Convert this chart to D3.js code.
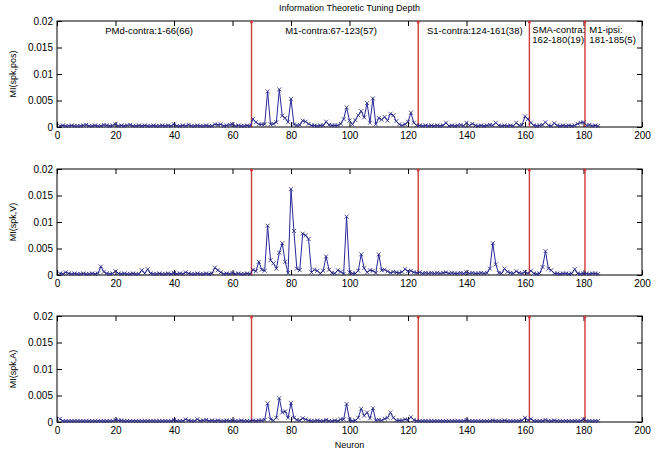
<!DOCTYPE html>
<html>
<head>
<meta charset="utf-8">
<script src="https://cdn.jsdelivr.net/npm/d3@7"></script>
<style>
  body { margin: 0; background: #fff; }
  text { font-family: "Liberation Sans", Arial, sans-serif; fill: #000; }
</style>
</head>
<body>
<svg id="chart" width="667" height="454"></svg>
<script>
// Information theoretic tuning depth, one value per neuron (1..185)
const miPos = [
  .0002,.0003,.0002,.0002,.0003,.0002,.0002,.0002,.0003,.0004,
  .0002,.0002,.0003,.0002,.0002,.0004,.0003,.0002,.0003,.0005,
  .0002,.0003,.0002,.0003,.0004,.0002,.0002,.0003,.0002,.0003,
  .0002,.0002,.0003,.0002,.0002,.0003,.0002,.0003,.0002,.0005,
  .0002,.0002,.0003,.0002,.0004,.0002,.0002,.0003,.0002,.0002,
  .0003,.0002,.0002,.0005,.0004,.0005,.0002,.0003,.0004,.0005,
  .0002,.0003,.0002,.0002,.0003,.0002,
  .0015,.0009,.0005,.0005,
  .0005,.0067,.0005,.0006,.0009,.0071,.0021,.0017,.0009,.0053,
  .0005,.0003,.0004,.0012,.0010,.0006,.0003,.0003,.0002,.0003,
  .0003,.0010,.0004,.0003,.0003,.0003,.0006,.0015,.0037,.0012,
  .0005,.0013,.0022,.0030,.0018,.0045,.0008,.0054,.0005,.0017,
  .0014,.0019,.0012,.0025,.0022,.0011,.0005,.0003,.0005,.0010,
  .0027,.0008,.0003,
  .0003,.0002,.0003,.0002,.0003,.0002,.0003,
  .0002,.0003,.0008,.0002,.0003,.0002,.0003,.0004,.0002,.0008,
  .0003,.0006,.0003,.0002,.0003,.0002,.0003,.0004,.0003,.0008,
  .0003,.0002,.0003,.0002,.0003,.0002,.0008,.0003,.0004,.0020,
  .0015,.0008,.0003,.0002,.0003,.0004,.0009,.0003,.0002,.0007,
  .0003,.0002,.0003,.0002,.0003,.0002,.0003,.0006,.0008,.0009,
  .0003,.0004,.0002,.0003,.0002
];

const miVel = [
  .0003,.0002,.0005,.0003,.0002,.0003,.0002,.0002,.0003,.0002,
  .0002,.0003,.0002,.0003,.0016,.0006,.0003,.0002,.0003,.0007,
  .0003,.0002,.0003,.0002,.0002,.0003,.0002,.0002,.0009,.0003,
  .0011,.0003,.0002,.0002,.0003,.0002,.0002,.0003,.0002,.0004,
  .0002,.0003,.0002,.0005,.0003,.0002,.0002,.0003,.0002,.0002,
  .0003,.0002,.0003,.0014,.0009,.0005,.0002,.0003,.0002,.0004,
  .0002,.0003,.0002,.0002,.0003,.0002,
  .0010,.0007,.0025,.0010,
  .0008,.0093,.0028,.0022,.0012,.0042,.0060,.0025,.0004,.0162,
  .0083,.0012,.0009,.0078,.0075,.0068,.0005,.0010,.0008,.0003,
  .0008,.0035,.0010,.0004,.0003,.0009,.0006,.0002,.0110,.0005,
  .0003,.0003,.0008,.0039,.0013,.0005,.0009,.0008,.0004,.0039,
  .0009,.0010,.0007,.0004,.0006,.0005,.0004,.0006,.0011,.0007,
  .0008,.0005,.0004,
  .0005,.0003,.0004,.0003,.0004,.0003,.0004,
  .0003,.0004,.0005,.0003,.0004,.0003,.0003,.0004,.0003,.0005,
  .0003,.0004,.0003,.0003,.0004,.0003,.0004,.0012,.0060,.0020,
  .0004,.0003,.0012,.0006,.0004,.0003,.0007,.0004,.0003,.0006,
  .0003,.0008,.0003,.0002,.0003,.0015,.0045,.0012,.0009,.0003,
  .0003,.0002,.0003,.0003,.0002,.0003,.0011,.0003,.0002,.0003,
  .0003,.0002,.0003,.0003,.0002
];

const miAcc = [
  .0006,.0002,.0002,.0002,.0002,.0002,.0002,.0002,.0002,.0002,
  .0002,.0002,.0002,.0002,.0002,.0002,.0002,.0002,.0002,.0004,
  .0003,.0003,.0002,.0002,.0002,.0002,.0002,.0002,.0002,.0002,
  .0002,.0002,.0002,.0002,.0002,.0002,.0002,.0002,.0002,.0004,
  .0002,.0002,.0002,.0005,.0003,.0002,.0002,.0005,.0002,.0003,
  .0004,.0002,.0003,.0002,.0003,.0002,.0002,.0003,.0002,.0003,
  .0002,.0002,.0003,.0002,.0002,.0002,
  .0003,.0002,.0003,.0003,
  .0004,.0035,.0005,.0003,.0008,.0045,.0018,.0020,.0008,.0036,
  .0008,.0004,.0003,.0007,.0005,.0003,.0002,.0002,.0003,.0002,
  .0002,.0004,.0002,.0002,.0003,.0002,.0005,.0005,.0034,.0004,
  .0002,.0003,.0008,.0025,.0012,.0018,.0007,.0026,.0003,.0004,
  .0003,.0006,.0008,.0018,.0008,.0003,.0003,.0003,.0005,.0004,
  .0009,.0004,.0002,
  .0002,.0002,.0002,.0002,.0002,.0002,.0002,
  .0002,.0002,.0002,.0002,.0002,.0002,.0002,.0002,.0002,.0004,
  .0002,.0002,.0002,.0002,.0002,.0002,.0002,.0002,.0003,.0002,
  .0002,.0002,.0003,.0002,.0002,.0002,.0002,.0002,.0003,.0008,
  .0003,.0006,.0002,.0002,.0002,.0002,.0004,.0002,.0002,.0003,
  .0002,.0002,.0002,.0002,.0002,.0002,.0002,.0002,.0002,.0005,
  .0002,.0002,.0002,.0002,.0002
];

// region boundaries (between neuron groups)
const boundaries = [66.5, 123.5, 161.5, 180.5];

// region labels shown in the top panel: [x, y, text]
const regionLabels = [
  [16.5, 0.0176, 'PMd-contra:1-66(66)'],
  [78, 0.0176, 'M1-contra:67-123(57)'],
  [126.5, 0.0176, 'S1-contra:124-161(38)'],
  [162.5, 0.0178, 'SMA-contra:'],
  [162.5, 0.0158, '162-180(19)'],
  [182, 0.0178, 'M1-ipsi:'],
  [182, 0.0158, '181-185(5)']
];

const xTicks = d3.range(0, 201, 20);
const yTicks = [0, 0.005, 0.01, 0.015, 0.02];

const panels = [
  { data: miPos, label: 'MI(spk,pos)', top: 21 },
  { data: miVel, label: 'MI(spk,V)', top: 169 },
  { data: miAcc, label: 'MI(spk,A)', top: 316 }
];

const svg = d3.select('#chart');
const left = 57, right = 642, ph = 106;
const blue = '#26269a';
const red = '#cf3a3a';

const x = d3.scaleLinear().domain([0, 200]).range([left, right]);

svg.append('text')
  .attr('x', (left + right) / 2)
  .attr('y', 11)
  .attr('text-anchor', 'middle')
  .style('font-size', '9px')
  .text('Information Theoretic Tuning Depth');

panels.forEach((p, pi) => {
  const y = d3.scaleLinear().domain([0, 0.02]).range([p.top + ph, p.top]);
  const g = svg.append('g');

  // frame
  g.append('rect')
    .attr('x', left).attr('y', p.top)
    .attr('width', right - left).attr('height', ph)
    .attr('fill', 'none').attr('stroke', '#000').attr('stroke-width', 1);

  // axes with inward ticks (matlab style)
  const axB = g.append('g').attr('transform', `translate(0,${p.top + ph})`)
    .call(d3.axisBottom(x).tickValues(xTicks).tickSizeInner(-5).tickSizeOuter(0).tickPadding(5));
  const axT = g.append('g').attr('transform', `translate(0,${p.top})`)
    .call(d3.axisTop(x).tickValues(xTicks).tickSizeInner(-5).tickSizeOuter(0).tickFormat(''));
  const axL = g.append('g').attr('transform', `translate(${left},0)`)
    .call(d3.axisLeft(y).tickValues(yTicks).tickSizeInner(-5).tickSizeOuter(0).tickPadding(4)
      .tickFormat(d => d === 0 ? '0' : String(+d.toFixed(3))));
  const axR = g.append('g').attr('transform', `translate(${right},0)`)
    .call(d3.axisRight(y).tickValues(yTicks).tickSizeInner(-5).tickSizeOuter(0).tickFormat(''));
  [axB, axT, axL, axR].forEach(a => {
    a.select('.domain').remove();
    a.selectAll('line').attr('stroke', '#000');
    a.selectAll('text').style('font-size', '10px').style('font-family', '"Liberation Sans", Arial, sans-serif');
  });

  // y label
  g.append('text')
    .attr('transform', `translate(16,${p.top + ph / 2}) rotate(-90)`)
    .attr('text-anchor', 'middle')
    .style('font-size', '9px')
    .text(p.label);

  // boundary lines
  boundaries.forEach(b => {
    g.append('line')
      .attr('x1', x(b)).attr('x2', x(b))
      .attr('y1', y(0)).attr('y2', y(0.02))
      .attr('stroke', red).attr('stroke-width', 1.4);
    g.append('circle')
      .attr('cx', x(b)).attr('cy', y(0.02) + 1)
      .attr('r', 1.5).attr('fill', red);
  });

  // series line
  const pts = p.data.map((v, i) => [i + 1, v]);
  const line = d3.line().x(d => x(d[0])).y(d => y(d[1]));
  g.append('path')
    .datum(pts)
    .attr('d', line)
    .attr('fill', 'none')
    .attr('stroke', blue)
    .attr('stroke-width', 1);

  // x markers
  const m = 2;
  g.append('g').selectAll('path')
    .data(pts)
    .join('path')
    .attr('d', d => {
      const cx = x(d[0]), cy = y(d[1]);
      return `M${cx - m},${cy - m}L${cx + m},${cy + m}M${cx - m},${cy + m}L${cx + m},${cy - m}`;
    })
    .attr('stroke', '#24247e')
    .attr('stroke-width', 0.8);

  if (pi === 0) {
    g.selectAll('text.region')
      .data(regionLabels)
      .join('text')
      .attr('class', 'region')
      .attr('x', d => x(d[0]))
      .attr('y', d => y(d[1]))
      .style('font-size', '9.5px')
      .text(d => d[2]);
  }
});

svg.append('text')
  .attr('x', (left + right) / 2)
  .attr('y', 448)
  .attr('text-anchor', 'middle')
  .style('font-size', '9px')
  .text('Neuron');
</script>
</body>
</html>
